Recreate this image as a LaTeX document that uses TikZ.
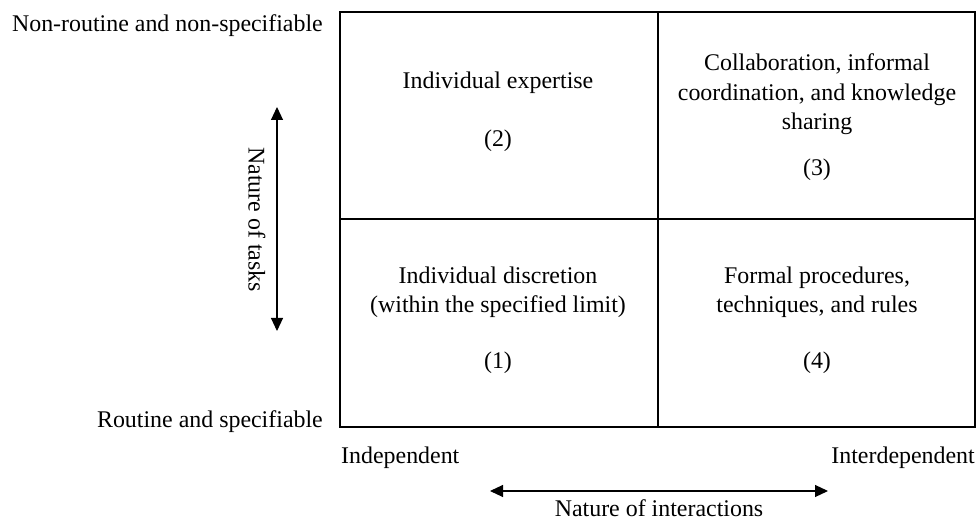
\documentclass[tikz,border=0pt]{standalone}
\usepackage{fontspec}
\setmainfont{Liberation Serif}
\usetikzlibrary{arrows.meta}

\begin{document}
\begin{tikzpicture}[x=1bp,y=-1bp]
            \tikzstyle{every node}+=[inner sep=0pt,font=\fontsize{24}{30}\selectfont]
            \tikzstyle{cell}=[anchor=base,align=center]
            \tikzstyle{axis}=[{Triangle[width=12bp,length=13bp]}-{Triangle[width=12bp,length=13bp]},line width=1.1bp]
            \useasboundingbox (0,0) rectangle (978,523);
            \draw [black,line width=1.3bp] (340,12) rectangle (975,427);
            \draw [black,line width=1.3bp] (658,12) -- (658,427);
            \draw [black,line width=1.3bp] (340,219) -- (975,219);
            \node [cell] (expertise) at (498,89) {Individual expertise};
            \node [cell] (numtwo) at (498,147) {(2)};
            \node [cell] (collab) at (817,130) {Collaboration, informal\\coordination, and knowledge\\sharing};
            \node [cell] (numthree) at (817,176) {(3)};
            \node [cell] (discretion) at (498,313) {Individual discretion\\(within the specified limit)};
            \node [cell] (numone) at (498,369) {(1)};
            \node [cell] (formal) at (817,313) {Formal procedures,\\techniques, and rules};
            \node [cell] (numfour) at (817,369) {(4)};
            \node [anchor=base east] (nonroutine) at (323,32) {Non-routine and non-specifiable};
            \node [anchor=base east] (routine) at (323,427) {Routine and specifiable};
            \node [anchor=base west] (indep) at (341,463) {Independent};
            \node [anchor=base east] (interdep) at (975,463) {Interdependent};
            \node [anchor=base] (interact) at (659,516) {Nature of interactions};
            \node [rotate=-90] (tasks) at (257,219.5) {Nature of tasks};
            \coordinate (tasktop) at (277,107);
            \coordinate (taskbot) at (277,331);
            \draw [axis] (tasktop) -- (taskbot);
            \coordinate (actleft) at (490,491);
            \coordinate (actright) at (828,491);
            \draw [axis] (actleft) -- (actright);
\end{tikzpicture}
\end{document}
